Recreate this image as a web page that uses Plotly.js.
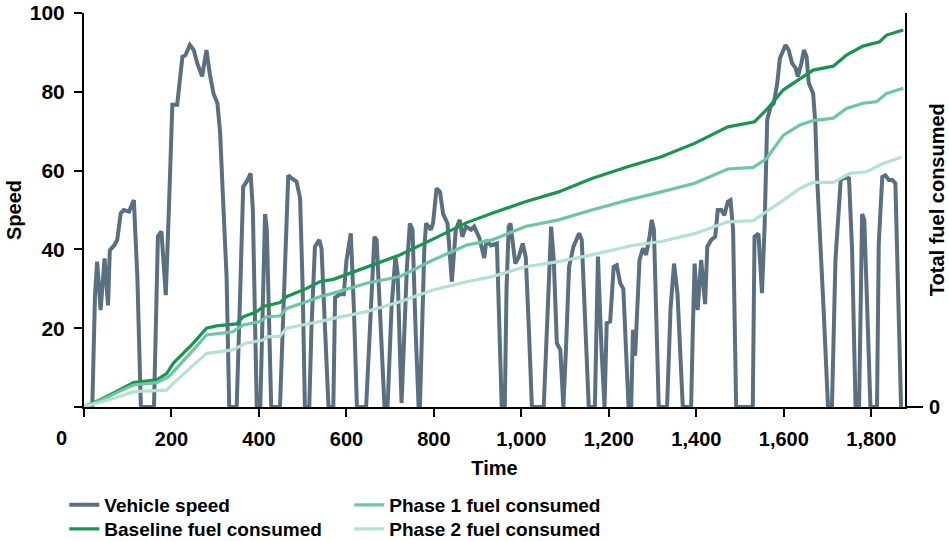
<!DOCTYPE html>
<html>
<head>
<meta charset="utf-8">
<script src="https://cdn.plot.ly/plotly-3.0.1.min.js"></script>
<style>html,body{margin:0;padding:0;background:#fff;}#chart{width:949px;height:541px;}</style>
</head>
<body>
<div id="chart"></div>
<script>
// Vehicle speed trace
var speedTime = [0,19,25,30,38,47,55,59,69,76,84,91,103,114,122,130,160,169,177,187,194,202,213,225,232,242,251,259,270,280,288,296,305,311,319,326,332,349,356,364,372,381,386,395,403,409,414,418,423,428,448,457,467,475,486,494,500,505,515,520,528,538,543,551,559,570,574,585,594,600,610,617,624,645,655,664,669,678,687,694,703,712,717,722,726,731,738,745,751,758,765,768,778,782,793,798,806,814,821,831,841,850,859,865,873,885,892,904,915,920,930,944,950,955,962,966,971,975,986,994,1003,1010,1017,1024,1051,1060,1068,1074,1081,1089,1096,1102,1109,1119,1132,1138,1146,1154,1168,1175,1183,1190,1195,1203,1211,1218,1226,1233,1245,1251,1255,1260,1265,1270,1278,1285,1293,1298,1303,1314,1333,1341,1349,1357,1369,1388,1392,1396,1403,1411,1420,1425,1434,1443,1449,1457,1464,1472,1478,1484,1491,1529,1533,1542,1550,1556,1562,1570,1577,1585,1591,1596,1604,1611,1619,1627,1632,1640,1646,1652,1657,1667,1672,1676,1680,1684,1691,1701,1710,1718,1730,1741,1749,1756,1764,1772,1779,1784,1791,1798,1813,1817,1825,1832,1840,1848,1855,1859,1868];
var speedValues = [0,0,28,36.9,24.6,37.7,25.8,39.8,41,42.4,49.2,50,49.6,52.5,33,0,0,43.3,44.6,28.4,50,76.7,76.7,88.9,89.3,91.9,90.6,87.2,83.9,90.6,84.3,79.6,77.1,70,50,33,0,0,25,55.9,57.2,59.3,50,0,0,30,49,45,20,0,0,30,58.8,58,57.2,53,30,0,0,20,40.7,42.4,40.3,20,0,0,27.8,28.6,28.6,37.1,44.1,25,0,0,25,43.2,42.4,20,0,0,25,38.2,33.9,15,1,15,35,46.6,45,20,0,0,40,46.6,45,46.6,55.5,54.6,49,46.6,31.8,45,47.5,43.2,45.8,45,45.8,42.9,37.8,42.4,41,41.5,20,0,0,30,45.8,46.6,36.4,38.1,41.5,38,20,0,0,25,45.8,37.3,16.2,14.5,0,15,35.6,40.7,44.1,42.4,20,0,0,38.2,15,0,21.3,21.7,35.6,36,31.4,30,0,0,19.6,13,25,37.3,40.3,38.6,43.2,47.5,45,0,0,25,36.4,28.6,0,0,20,36.4,24.6,37.3,26.1,40.7,42.4,43.2,50,50,48.7,52.1,52.5,45,0,0,43.2,44,28.9,45.8,72.9,76.3,77.1,82.2,88.5,89.8,91.9,90.6,87.2,86,83.9,87.2,90.6,88.9,82.2,79.6,72,58.4,50,41.5,24.6,0,0,37.3,57.6,58.4,58,40,0,0,49,47.5,25,0,0,41.5,58.4,58.8,57.6,57.6,56.8,41.5,0];

// Cumulative fuel consumed
var baselineTime = [0,40,80,113,166,189,204,250,280,303,349,364,395,410,448,463,509,539,570,646,722,798,875,933,1009,1085,1161,1243,1320,1396,1472,1533,1560,1599,1637,1667,1713,1743,1781,1819,1835,1873];
var baselineFuel = [0,2,4.3,6.2,6.9,8.5,11.1,16.2,20,20.6,21.1,22.9,24.2,25.5,26.5,28,30.1,31.8,32.4,35.6,38.6,42.6,46.8,49.2,52.1,54.6,58,61,63.5,66.9,71.1,72.4,75.4,80.5,83.4,85.5,86.5,89.3,91.6,92.7,94.4,95.7];
var phase1Time = [0,40,80,113,166,194,250,280,340,364,402,417,448,463,509,539,570,646,722,798,875,933,1009,1085,1161,1243,1320,1396,1472,1530,1560,1599,1637,1667,1713,1743,1781,1812,1835,1873];
var phase1Fuel = [0,1.8,3.9,5.6,6.2,7.7,14.5,18.3,19.1,20.8,21.7,22.9,23.1,25,26.7,28,28.9,31.4,33.1,37.3,41.1,42.4,45.8,47.5,50,52.5,54.6,56.8,60.4,60.8,63,69,71.6,72.7,73.3,75.8,77.1,77.5,79.6,80.9];
var phase2Time = [0,40,80,113,189,204,280,340,370,410,417,448,463,539,570,646,722,798,875,933,1009,1085,1161,1253,1320,1396,1472,1530,1560,1599,1637,1667,1713,1751,1789,1827,1869];
var phase2Fuel = [0,1.2,2.6,3.9,4.3,6,13.6,14.5,16.2,17,17.8,18,20,21.7,22.5,24.2,26.7,29.7,31.8,33.1,35.6,36.9,38.6,41,42,44,47,47.3,49.5,52.5,55.5,57,57,59.3,59.7,61.8,63.4];

var xTickVals = [0,200,400,600,800,1000,1200,1400,1600,1800];
var xTickText = ['', '200', '400', '600', '800', '1,000', '1,200', '1,400', '1,600', '1,800'];
var yTickVals = [0,20,40,60,80,100];
var yTickText = ['', '20', '40', '60', '80', '100'];

var FONT = 'Liberation Sans, Arial, sans-serif';
var FS = 20;
var LEG_FONT = {family: FONT, size: 19, color: '#000', weight: 700};

var traces = [
  {x: baselineTime, y: baselineFuel, name: 'Baseline fuel consumed', type: 'scatter', mode: 'lines', yaxis: 'y2',
   line: {color: '#1a9550', width: 3.2}, legend: 'legend2', legendrank: 1},
  {x: phase1Time, y: phase1Fuel, name: 'Phase 1 fuel consumed', type: 'scatter', mode: 'lines', yaxis: 'y2',
   line: {color: '#6dc7a0', width: 3.2}, legend: 'legend', legendrank: 2},
  {x: phase2Time, y: phase2Fuel, name: 'Phase 2 fuel consumed', type: 'scatter', mode: 'lines', yaxis: 'y2',
   line: {color: '#b4e2cc', width: 3.2}, legend: 'legend2', legendrank: 2},
  {x: speedTime, y: speedValues, name: 'Vehicle speed', type: 'scatter', mode: 'lines',
   line: {color: '#5a6f80', width: 4}, legend: 'legend', legendrank: 1}
];

var legendCommon = {orientation: 'h', x: -0.024, xanchor: 'left', yanchor: 'top',
  font: LEG_FONT, traceorder: 'normal', itemwidth: 30, bgcolor: 'rgba(0,0,0,0)',
  entrywidth: 240, entrywidthmode: 'pixels'};

var layout = {
  width: 949, height: 541,
  margin: {l: 84, r: 44, t: 13, b: 134, autoexpand: false},
  paper_bgcolor: '#fff', plot_bgcolor: '#fff',
  font: {family: FONT, size: FS, color: '#000', weight: 700},
  showlegend: true,
  legend: Object.assign({}, legendCommon, {y: -0.2004}),
  legend2: Object.assign({}, legendCommon, {y: -0.2614}),
  xaxis: {range: [0, 1877], tickvals: xTickVals, ticktext: xTickText,
          showline: true, linecolor: '#000', linewidth: 2, ticks: 'outside', ticklen: 8, tickwidth: 2, tickcolor: '#000',
          showgrid: false, zeroline: false, ticklabelstandoff: 5,
          tickfont: {family: FONT, size: FS, weight: 700},
          title: {text: 'Time', font: {family: FONT, size: FS, weight: 700}, standoff: 12}},
  yaxis: {range: [0, 100], tickvals: yTickVals, ticktext: yTickText,
          showline: true, linecolor: '#000', linewidth: 2, ticks: 'outside', ticklen: 8, tickwidth: 2, tickcolor: '#000',
          showgrid: false, zeroline: false, ticklabelstandoff: 5,
          tickfont: {family: FONT, size: 21, weight: 700},
          title: {text: 'Speed', font: {family: FONT, size: FS, weight: 700}, standoff: 3}},
  yaxis2: {range: [0, 100], overlaying: 'y', side: 'right', tickvals: [0], ticktext: ['0'],
           showline: true, linecolor: '#000', linewidth: 2, ticks: 'outside', ticklen: 16, tickwidth: 2, tickcolor: '#000',
           showgrid: false, zeroline: false, ticklabelstandoff: 2,
           tickfont: {family: FONT, size: FS, weight: 700}},
  annotations: [
    {text: '0', xref: 'paper', yref: 'paper', x: -0.0268, y: -0.0787, xanchor: 'center', yanchor: 'middle',
     showarrow: false, font: {family: FONT, size: FS, weight: 700, color: '#000'}},
    {text: 'Total fuel consumed', xref: 'paper', yref: 'paper', x: 1.039, y: 0.525, xanchor: 'center', yanchor: 'middle',
     textangle: -90, showarrow: false, font: {family: FONT, size: FS, weight: 700, color: '#000'}}
  ]
};

Plotly.newPlot('chart', traces, layout, {displayModeBar: false, staticPlot: true});
</script>
</body>
</html>
